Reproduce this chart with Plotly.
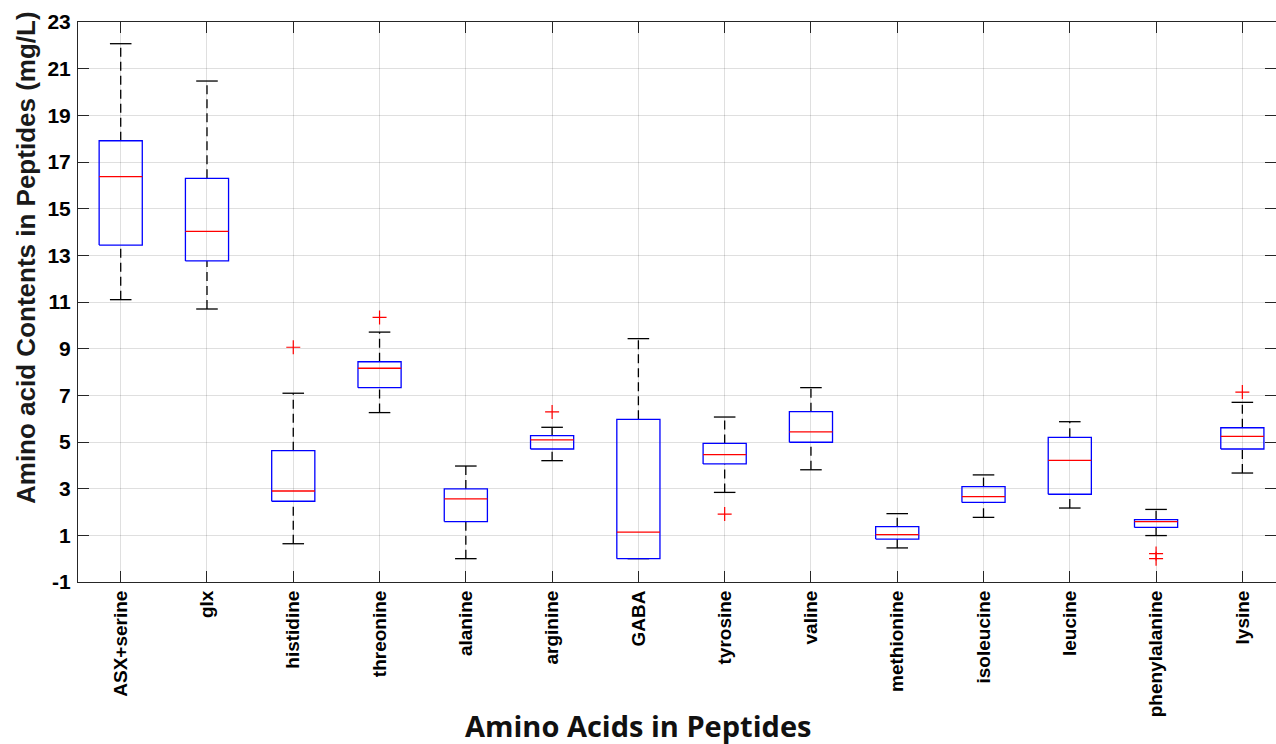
import plotly.graph_objects as go

categories = ["ASX+serine", "glx", "histidine", "threonine", "alanine", "arginine", "GABA",
              "tyrosine", "valine", "methionine", "isoleucine", "leucine", "phenylalanine", "lysine"]
lower_whisker = [11.10, 10.70, 0.64, 6.26, 0.00, 4.20, 0.00, 2.84, 3.81, 0.46, 1.77, 2.17, 0.99, 3.67]
q1 =            [13.44, 12.76, 2.46, 7.33, 1.59, 4.70, 0.00, 4.06, 4.99, 0.84, 2.41, 2.76, 1.34, 4.70]
median =        [16.37, 14.03, 2.90, 8.16, 2.56, 5.09, 1.14, 4.46, 5.43, 1.03, 2.66, 4.21, 1.59, 5.24]
q3 =            [17.91, 16.30, 4.63, 8.44, 2.99, 5.27, 5.97, 4.94, 6.30, 1.37, 3.09, 5.20, 1.67, 5.61]
upper_whisker = [22.07, 20.47, 7.09, 9.71, 3.97, 5.63, 9.43, 6.07, 7.33, 1.93, 3.59, 5.87, 2.11, 6.70]
outlier_category = ["histidine", "threonine", "arginine", "tyrosine", "phenylalanine", "phenylalanine", "lysine"]
outlier_value =    [9.06, 10.34, 6.29, 1.91, 0.22, 0.00, 7.14]
y_ticks = [-1, 1, 3, 5, 7, 9, 11, 13, 15, 17, 19, 21, 23]

BOX_HALF = 0.25
CAP_HALF = 0.125

pos = list(range(1, len(categories) + 1))
cat_pos = {c: p for c, p in zip(categories, pos)}

box_x, box_y = [], []
med_x, med_y = [], []
wh_x, wh_y = [], []
cap_x, cap_y = [], []
for p, lw, a, m, b, uw in zip(pos, lower_whisker, q1, median, q3, upper_whisker):
    box_x += [p - BOX_HALF, p + BOX_HALF, p + BOX_HALF, p - BOX_HALF, p - BOX_HALF, None]
    box_y += [a, a, b, b, a, None]
    med_x += [p - BOX_HALF, p + BOX_HALF, None]
    med_y += [m, m, None]
    if uw > b:
        wh_x += [p, p, None]
        wh_y += [b, uw, None]
    if lw < a:
        wh_x += [p, p, None]
        wh_y += [lw, a, None]
    cap_x += [p - CAP_HALF, p + CAP_HALF, None, p - CAP_HALF, p + CAP_HALF, None]
    cap_y += [uw, uw, None, lw, lw, None]

fig = go.Figure()
fig.add_trace(go.Scatter(x=wh_x, y=wh_y, mode="lines",
                         line=dict(color="black", width=1.3, dash="9px,5px"), hoverinfo="skip"))
fig.add_trace(go.Scatter(x=cap_x, y=cap_y, mode="lines",
                         line=dict(color="black", width=1.3), hoverinfo="skip"))
fig.add_trace(go.Scatter(x=box_x, y=box_y, mode="lines",
                         line=dict(color="#0000ff", width=1.3), hoverinfo="skip"))
fig.add_trace(go.Scatter(x=med_x, y=med_y, mode="lines",
                         line=dict(color="#ff0000", width=1.3), hoverinfo="skip"))
fig.add_trace(go.Scatter(x=[cat_pos[c] for c in outlier_category], y=outlier_value, mode="markers",
                         marker=dict(symbol="cross-thin", size=10, line=dict(color="#ff0000", width=1.2)),
                         hoverinfo="skip"))

axis_color = "#262626"
grid_color = "rgba(38,38,38,0.15)"
tick_font = dict(family="Liberation Sans, Arial, sans-serif", size=21, color="black", weight="bold")

fig.update_layout(
    width=1276, height=744,
    margin=dict(l=78, r=0, t=22, b=162),
    paper_bgcolor="white", plot_bgcolor="white",
    showlegend=False,
    xaxis=dict(
        range=[0.505, 14.39],
        tickmode="array", tickvals=pos, ticktext=categories, tickangle=-90,
        tickfont=dict(family="Liberation Sans, Arial, sans-serif", size=19, color="black", weight="bold"),
        ticks="inside", ticklen=11, tickcolor=axis_color, tickwidth=1,
        showline=True, linecolor=axis_color, linewidth=1, mirror="ticks",
        showgrid=True, gridcolor=grid_color, gridwidth=1, zeroline=False,
        ticklabelstandoff=0,
    ),
    yaxis=dict(
        range=[-1, 23],
        tickmode="array", tickvals=y_ticks, ticktext=[str(v) for v in y_ticks],
        tickfont=tick_font,
        ticks="inside", ticklen=11, tickcolor=axis_color, tickwidth=1,
        showline=True, linecolor=axis_color, linewidth=1, mirror="ticks",
        showgrid=True, gridcolor=grid_color, gridwidth=1, zeroline=False,
        ticklabelstandoff=2,
    ),
    annotations=[
        dict(text="Amino acid Contents in Peptides (mg/L)", textangle=-90,
             xref="paper", yref="paper", x=(26 - 78) / 1198, y=(582 - 258) / 560,
             xanchor="center", yanchor="middle", showarrow=False,
             font=dict(family="Liberation Sans, Arial, sans-serif", size=26, color="#1a1a1a", weight="bold")),
        dict(text="Amino Acids in Peptides",
             xref="paper", yref="paper", x=(638 - 78) / 1198, y=(582 - 725) / 560,
             xanchor="center", yanchor="middle", showarrow=False,
             font=dict(family="Open Sans, sans-serif", size=29, color="#111111", weight="bold")),
    ],
)

fig.write_html("out.html")
